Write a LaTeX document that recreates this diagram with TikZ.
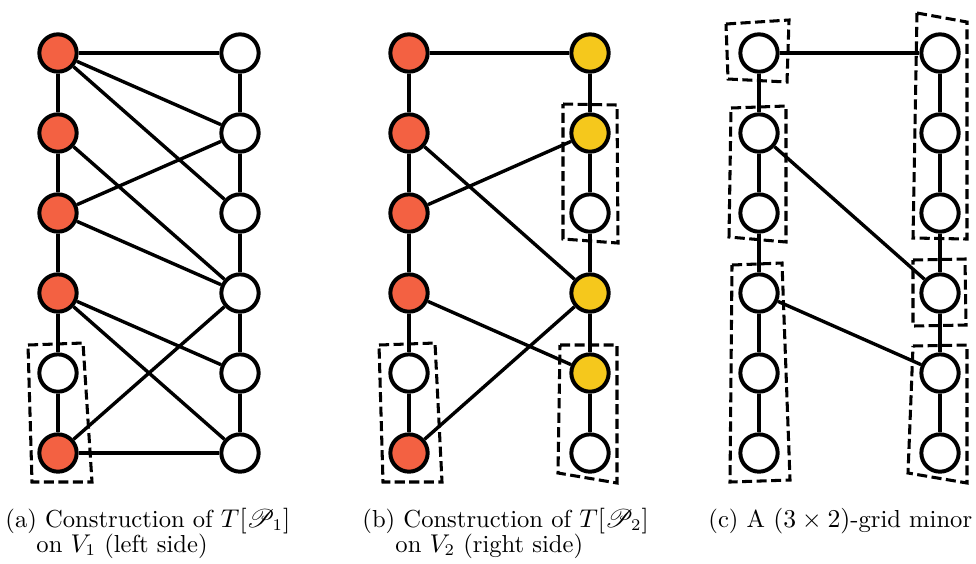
\documentclass[tikz,border=0pt]{standalone}
\usepackage{amsmath}
\usepackage{mathrsfs}

\definecolor{vred}{RGB}{243,97,66}
\definecolor{vyellow}{RGB}{245,200,28}

\begin{document}
\begin{tikzpicture}[
x=0.015cm, y=-0.015cm,
vert/.style={
draw,
circle,
line width=1.7pt,
minimum size=0.56cm,
inner sep=0pt,
fill=white
},
redv/.style={vert, fill=vred},
yelv/.style={vert, fill=vyellow},
link/.style={line width=1.45pt},
dashbox/.style={line width=1.3pt, dash pattern=on 4.3pt off 1.9pt},
lbl/.style={anchor=base west, inner sep=0pt, font=\fontsize{10.5}{12}\selectfont}
]

\useasboundingbox (0,0) rectangle (976,563);

% (a) left side
\node[redv] (a1) at (58,53) {};
\node[redv] (a2) at (58,133) {};
\node[redv] (a3) at (58,213) {};
\node[redv] (a4) at (58,293) {};
\node[vert] (a5) at (58,373) {};
\node[redv] (a6) at (58,453) {};

\node[vert] (ar1) at (240,53) {};
\node[vert] (ar2) at (240,133) {};
\node[vert] (ar3) at (240,213) {};
\node[vert] (ar4) at (240,293) {};
\node[vert] (ar5) at (240,373) {};
\node[vert] (ar6) at (240,453) {};

\draw[link] (a1) -- (a2) -- (a3) -- (a4) -- (a5) -- (a6);
\draw[link] (ar1) -- (ar2) -- (ar3) -- (ar4) -- (ar5) -- (ar6);
\draw[link] (a1) -- (ar1);
\draw[link] (a1) -- (ar2);
\draw[link] (a1) -- (ar3);
\draw[link] (a2) -- (ar4);
\draw[link] (a3) -- (ar2);
\draw[link] (a3) -- (ar4);
\draw[link] (a4) -- (ar5);
\draw[link] (a4) -- (ar6);
\draw[link] (a6) -- (ar4);
\draw[link] (a6) -- (ar6);

\draw[dashbox] (28,345) -- (83,343) -- (92,482) -- (32,482) -- cycle;

% (b) right side
\node[redv] (b1) at (409,53) {};
\node[redv] (b2) at (409,133) {};
\node[redv] (b3) at (409,213) {};
\node[redv] (b4) at (409,293) {};
\node[vert] (b5) at (409,373) {};
\node[redv] (b6) at (409,453) {};

\node[yelv] (br1) at (590,53) {};
\node[yelv] (br2) at (590,133) {};
\node[vert] (br3) at (590,213) {};
\node[yelv] (br4) at (590,293) {};
\node[yelv] (br5) at (590,373) {};
\node[vert] (br6) at (590,453) {};

\draw[link] (b1) -- (b2) -- (b3) -- (b4) -- (b5) -- (b6);
\draw[link] (br1) -- (br2) -- (br3) -- (br4) -- (br5) -- (br6);
\draw[link] (b1) -- (br1);
\draw[link] (b2) -- (br4);
\draw[link] (b3) -- (br2);
\draw[link] (b4) -- (br5);
\draw[link] (b6) -- (br4);

\draw[dashbox] (563,104) -- (617,105) -- (618,243) -- (563,239) -- cycle;
\draw[dashbox] (379,345) -- (435,343) -- (442,482) -- (383,482) -- cycle;
\draw[dashbox] (560,345) -- (617,345) -- (617,483) -- (558,473) -- cycle;

% (c) grid minor
\node[vert] (c1) at (759,53) {};
\node[vert] (c2) at (759,133) {};
\node[vert] (c3) at (759,213) {};
\node[vert] (c4) at (759,293) {};
\node[vert] (c5) at (759,373) {};
\node[vert] (c6) at (759,453) {};

\node[vert] (cr1) at (940,53) {};
\node[vert] (cr2) at (940,133) {};
\node[vert] (cr3) at (940,213) {};
\node[vert] (cr4) at (940,293) {};
\node[vert] (cr5) at (940,373) {};
\node[vert] (cr6) at (940,453) {};

\draw[link] (c1) -- (c2) -- (c3) -- (c4) -- (c5) -- (c6);
\draw[link] (cr1) -- (cr2) -- (cr3) -- (cr4) -- (cr5) -- (cr6);
\draw[link] (c1) -- (cr1);
\draw[link] (c2) -- (cr4);
\draw[link] (c4) -- (cr5);

\draw[dashbox] (726,24) -- (789,20) -- (787,82) -- (728,79) -- cycle;
\draw[dashbox] (731,108) -- (786,106) -- (786,242) -- (729,237) -- cycle;
\draw[dashbox] (732,265) -- (782,263) -- (790,480) -- (730,482) -- cycle;
\draw[dashbox] (917,13) -- (967,22) -- (967,239) -- (913,238) -- cycle;
\draw[dashbox] (913,260) -- (965,259) -- (966,325) -- (913,326) -- cycle;
\draw[dashbox] (913,346) -- (967,345) -- (967,483) -- (908,473) -- cycle;

% captions
\node[lbl] (capa1) at (5,527) {(a) Construction of $T[\mathscr{P}_1]$};
\node[lbl] (capa2) at (36,552) {on $V_1$ (left side)};
\node[lbl] (capb1) at (362,527) {(b) Construction of $T[\mathscr{P}_2]$};
\node[lbl] (capb2) at (395,552) {on $V_2$ (right side)};
\node[lbl] (capc1) at (708,527) {(c) A $(3\times 2)$-grid minor};

\end{tikzpicture}
\end{document}
